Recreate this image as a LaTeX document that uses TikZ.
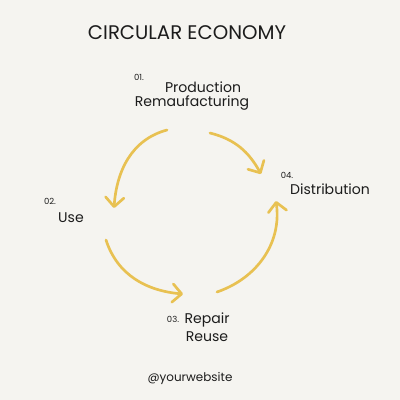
\documentclass[tikz,border=0pt]{standalone}
\usepackage{fontspec}
\setmainfont{Poppins}
\usetikzlibrary{arrows.meta}
\definecolor{paper}{HTML}{F5F4F0}
\definecolor{gold}{HTML}{E8C152}
\definecolor{ink}{HTML}{1C1C1C}
\begin{document}
\begin{tikzpicture}[x=0.025cm,y=-0.025cm,
    lbl/.style={text=ink,font=\fontsize{10}{12}\selectfont,inner sep=0pt},
    num/.style={text=ink,font=\fontsize{6}{7}\selectfont,inner sep=0pt},
    flow/.style={gold,line width=1.9pt,line cap=round,
      -{Straight Barb[length=6.5pt,width=13pt,line width=1.9pt,round]}}]
    \fill[paper] (0,0) rectangle (400,400);
    \useasboundingbox (0,0) rectangle (400,400);

    \node[text=ink,font=\fontsize{14}{16}\selectfont,inner sep=0pt] (title) at (187,33) {CIRCULAR ECONOMY};

    \node[num] (n1) at (139,77) {01.};
    \node[lbl] (prod) at (203,87) {Production};
    \node[lbl] (reman) at (192,103) {Remaufacturing};
    \node[num] (n2) at (50,201) {02.};
    \node[lbl] (use) at (71,218) {Use};
    \node[num] (n3) at (173,319) {03.};
    \node[lbl] (repair) at (207,320) {Repair};
    \node[lbl] (reuse) at (207,337) {Reuse};
    \node[num] (n4) at (287,175) {04.};
    \node[lbl] (dist) at (330,189) {Distribution};
    \node[lbl,font=\fontsize{8.5}{10}\selectfont] (web) at (190,378) {@yourwebsite};

    \coordinate (a1) at (167,130);
    \coordinate (b1) at (114,208);
    \coordinate (a2) at (210,133);
    \coordinate (b2) at (261,174);
    \coordinate (a3) at (106,240);
    \coordinate (b3) at (183,294);
    \coordinate (a4) at (217,292);
    \coordinate (b4) at (276,201);

    \draw[flow] (a1) to[out=195,in=86] (b1);
    \draw[flow] (a2) to[out=-14,in=119] (b2);
    \draw[flow] (a3) to[out=288,in=175] (b3);
    \draw[flow] (a4) to[out=19,in=-82] (b4);
  \end{tikzpicture}
\end{document}
